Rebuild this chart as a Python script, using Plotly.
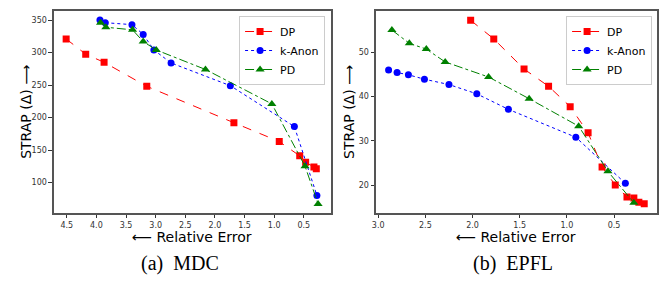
import plotly.graph_objects as go

# ---- data: MDC (left) ----
mdc_dp_x = [4.51, 4.18, 3.87, 3.15, 1.68, 0.915, 0.57, 0.47, 0.33, 0.29]
mdc_dp_y = [321, 297.5, 285, 248, 192, 163, 141, 131, 124, 121]
mdc_ka_x = [3.94, 3.85, 3.40, 3.21, 3.03, 2.74, 1.74, 0.66, 0.28]
mdc_ka_y = [350, 346, 343, 328, 304, 284, 249, 186, 80]
mdc_pd_x = [3.93, 3.84, 3.39, 3.21, 2.99, 2.16, 1.04, 0.48, 0.26]
mdc_pd_y = [346, 339, 335, 317, 304, 274, 221, 125, 67]

# ---- data: EPFL (right) ----
epfl_dp_x = [2.02, 1.775, 1.454, 1.194, 0.965, 0.775, 0.627, 0.487, 0.363, 0.29, 0.237, 0.18]
epfl_dp_y = [57.2, 53.0, 46.2, 42.3, 37.7, 31.8, 24.1, 20.0, 17.3, 17.1, 16.1, 15.8]
epfl_ka_x = [2.89, 2.80, 2.68, 2.51, 2.25, 1.955, 1.62, 0.905, 0.38]
epfl_ka_y = [46.0, 45.4, 44.9, 43.9, 42.7, 40.6, 37.1, 30.8, 20.4]
epfl_pd_x = [2.855, 2.67, 2.49, 2.29, 1.83, 1.40, 0.875, 0.565, 0.29]
epfl_pd_y = [55.0, 52.0, 50.7, 47.8, 44.4, 39.5, 33.3, 23.1, 16.0]

series_names = ["DP", "k-Anon", "PD"]
mdc_ticks_x = [0.5, 1.0, 1.5, 2.0, 2.5, 3.0, 3.5, 4.0, 4.5]
mdc_ticks_y = [100, 150, 200, 250, 300, 350]
epfl_ticks_x = [0.5, 1.0, 1.5, 2.0, 2.5, 3.0]
epfl_ticks_y = [20, 30, 40, 50]
captions = ["(a)  MDC", "(b)  EPFL"]

styles = [
    dict(color="#ff0000", dash="dash", symbol="square", size=7),
    dict(color="#0000ff", dash="dot", symbol="circle", size=7),
    dict(color="#008000", dash="dashdot", symbol="triangle-up", size=8),
]

fig = go.Figure()

def add(xs, ys, name, st, xa, ya, legend):
    fig.add_trace(go.Scatter(
        x=xs, y=ys, name=name, mode="lines+markers",
        line=dict(color=st["color"], dash=st["dash"], width=1),
        marker=dict(color=st["color"], symbol=st["symbol"], size=st["size"], line=dict(width=0)),
        xaxis=xa, yaxis=ya, legend=legend,
    ))

left = [(mdc_dp_x, mdc_dp_y), (mdc_ka_x, mdc_ka_y), (mdc_pd_x, mdc_pd_y)]
right = [(epfl_dp_x, epfl_dp_y), (epfl_ka_x, epfl_ka_y), (epfl_pd_x, epfl_pd_y)]
for (xs, ys), n, st in zip(left, series_names, styles):
    add(xs, ys, n, st, "x", "y", "legend")
for (xs, ys), n, st in zip(right, series_names, styles):
    add(xs, ys, n, st, "x2", "y2", "legend2")

W, H = 667, 282
axfont = dict(family="DejaVu Sans", size=8, color="#333333")
common = dict(showgrid=False, zeroline=False, showline=True, mirror=True,
              linecolor="#555555", linewidth=1.5, ticks="outside", ticklen=3.5,
              tickcolor="#333333", tickfont=axfont)

yd = [1 - 213 / H, 1 - 11 / H]
legfont = dict(family="DejaVu Sans", size=11, color="black")
fig.update_layout(
    width=W, height=H, margin=dict(l=0, r=0, t=0, b=0),
    paper_bgcolor="white", plot_bgcolor="white",
    xaxis=dict(domain=[50 / W, 328.5 / W], range=[4.72, 0.05], tickvals=mdc_ticks_x,
               ticktext=[f"{v:.1f}" for v in mdc_ticks_x], anchor="y", **common),
    yaxis=dict(domain=yd, range=[53, 364], tickvals=mdc_ticks_y, anchor="x", **common),
    xaxis2=dict(domain=[374 / W, 657 / W], range=[3.026, 0.044], tickvals=epfl_ticks_x,
                ticktext=[f"{v:.1f}" for v in epfl_ticks_x], anchor="y2", **common),
    yaxis2=dict(domain=yd, range=[13.7, 59.3], tickvals=epfl_ticks_y, anchor="x2", **common),
    legend=dict(x=323 / W, y=1 - 16 / H, xanchor="right", yanchor="top",
                bgcolor="rgba(255,255,255,0.8)", bordercolor="#cccccc", borderwidth=1,
                font=legfont, itemwidth=30, tracegroupgap=0),
    legend2=dict(x=652 / W, y=1 - 16 / H, xanchor="right", yanchor="top",
                 bgcolor="rgba(255,255,255,0.8)", bordercolor="#cccccc", borderwidth=1,
                 font=legfont, itemwidth=30, tracegroupgap=0),
    showlegend=True,
)

ann = []
tfont = dict(family="DejaVu Sans", size=14, color="black")
# x titles
for cx in [(50 + 328.5) / 2, (374 + 657) / 2]:
    ann.append(dict(text="⟵ Relative Error", x=cx / W, y=1 - 237 / H, xref="paper", yref="paper",
                    xanchor="center", yanchor="middle", showarrow=False, font=tfont))
# y titles
for cx in [22, 347]:
    ann.append(dict(text="STRAP (Δ) ⟶", x=cx / W, y=1 - 112 / H, xref="paper", yref="paper",
                    xanchor="center", yanchor="middle", textangle=-90, showarrow=False, font=tfont))
# captions
for cx, cap in zip([177, 512], captions):
    ann.append(dict(text=cap, x=cx / W, y=1 - 263 / H, xref="paper", yref="paper",
                    xanchor="center", yanchor="middle", showarrow=False,
                    font=dict(family="Liberation Serif", size=20, color="black")))
fig.update_layout(annotations=ann)

fig.write_html("out.html", config={"displayModeBar": False},
               post_script="document.body.style.margin='0';")
